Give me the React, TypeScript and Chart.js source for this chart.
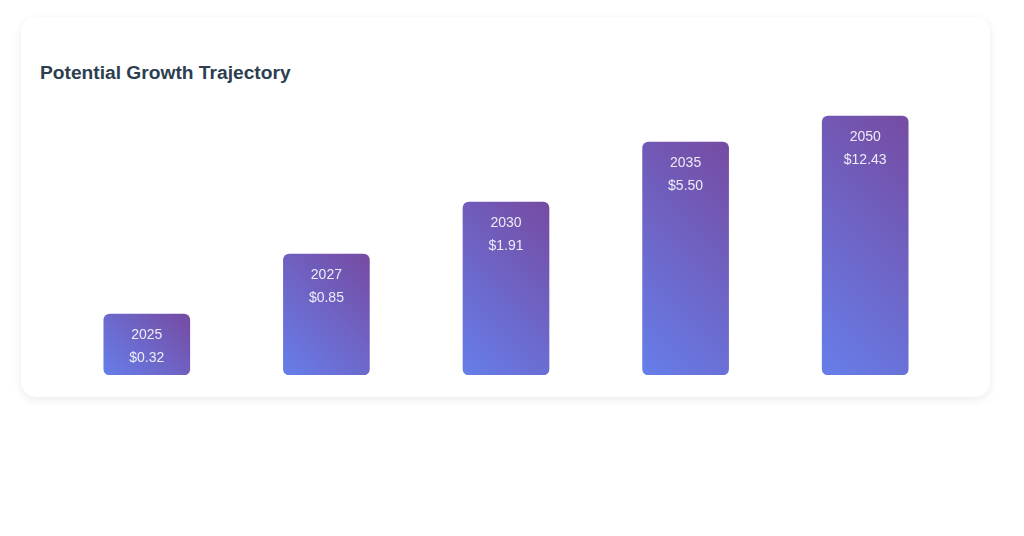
import { useEffect, useRef } from 'react';
import Chart from 'chart.js/auto';

// categories, shown values and drawn bar heights (px-like units)
const years = ['2025', '2027', '2030', '2035', '2050'];
const valueLabels = ['$0.32', '$0.85', '$1.91', '$5.50', '$12.43'];
const barHeights = [61, 121, 173, 233, 259];
const Y_MAX = 300;

const C = {
  from: '#667eea',
  to: '#764ba2',
  title: '#2c3e50',
  text: 'rgba(255,255,255,0.88)'
};

const FONT = "'Liberation Sans', Arial, sans-serif";

export default function App() {
  const canvasRef = useRef<HTMLCanvasElement | null>(null);

  useEffect(() => {
    if (!canvasRef.current) return;

    // 45deg gradient, blue bottom-left -> purple top-right, per bar
    const barGradient = (c: any) => {
      const chart = c.chart;
      if (!chart.chartArea || c.dataIndex == null) return C.from;
      const xs = chart.scales.x;
      const ys = chart.scales.y;
      const w = 86;
      const cx = xs.getPixelForValue(c.dataIndex);
      const top = ys.getPixelForValue(barHeights[c.dataIndex]);
      const base = ys.getPixelForValue(0);
      const h = base - top;
      const cy = top + h / 2;
      const L = (w + h) * Math.SQRT1_2;
      const dx = Math.SQRT1_2 * (L / 2);
      const dy = -Math.SQRT1_2 * (L / 2);
      const g = chart.ctx.createLinearGradient(cx - dx, cy - dy, cx + dx, cy + dy);
      g.addColorStop(0, C.from);
      g.addColorStop(1, C.to);
      return g;
    };

    const labelsPlugin = {
      id: 'barLabels',
      afterDatasetsDraw(chart: any) {
        const { ctx } = chart;
        const meta = chart.getDatasetMeta(0);
        ctx.save();
        ctx.fillStyle = C.text;
        ctx.font = `14px ${FONT}`;
        ctx.textAlign = 'center';
        ctx.textBaseline = 'middle';
        meta.data.forEach((bar: any, i: number) => {
          const { x, y } = bar.getProps(['x', 'y'], true);
          ctx.fillText(years[i], x, y + 21);
          ctx.fillText(valueLabels[i], x, y + 44);
        });
        ctx.restore();
      }
    };

    const chart = new Chart(canvasRef.current, {
      type: 'bar',
      data: {
        labels: years,
        datasets: [
          {
            data: barHeights,
            backgroundColor: barGradient,
            borderRadius: 6,
            borderSkipped: false,
            borderWidth: 0,
            barThickness: 86
          }
        ]
      },
      options: {
        responsive: false,
        animation: false,
        layout: { padding: 0 },
        plugins: {
          legend: { display: false },
          tooltip: { enabled: false }
        },
        scales: {
          x: { display: false },
          y: { display: false, min: 0, max: Y_MAX }
        }
      },
      plugins: [labelsPlugin]
    });

    return () => {
      chart.destroy();
    };
  }, []);

  return (
    <div style={{ padding: '9px 13px' }}>
      <div
        style={{
          position: 'relative',
          width: 969,
          height: 380,
          background: '#fff',
          borderRadius: 15,
          boxShadow: '0 3px 10px rgba(0,0,0,0.08)',
          fontFamily: FONT
        }}
      >
        <div
          style={{
            position: 'absolute',
            left: 19,
            top: 45,
            fontSize: 19.2,
            lineHeight: '22px',
            fontWeight: 700,
            color: C.title
          }}
        >
          Potential Growth Trajectory
        </div>
        <canvas
          ref={canvasRef}
          width={898}
          height={300}
          style={{ position: 'absolute', left: 36, top: 58, width: 898, height: 300 }}
        ></canvas>
      </div>
    </div>
  );
}
